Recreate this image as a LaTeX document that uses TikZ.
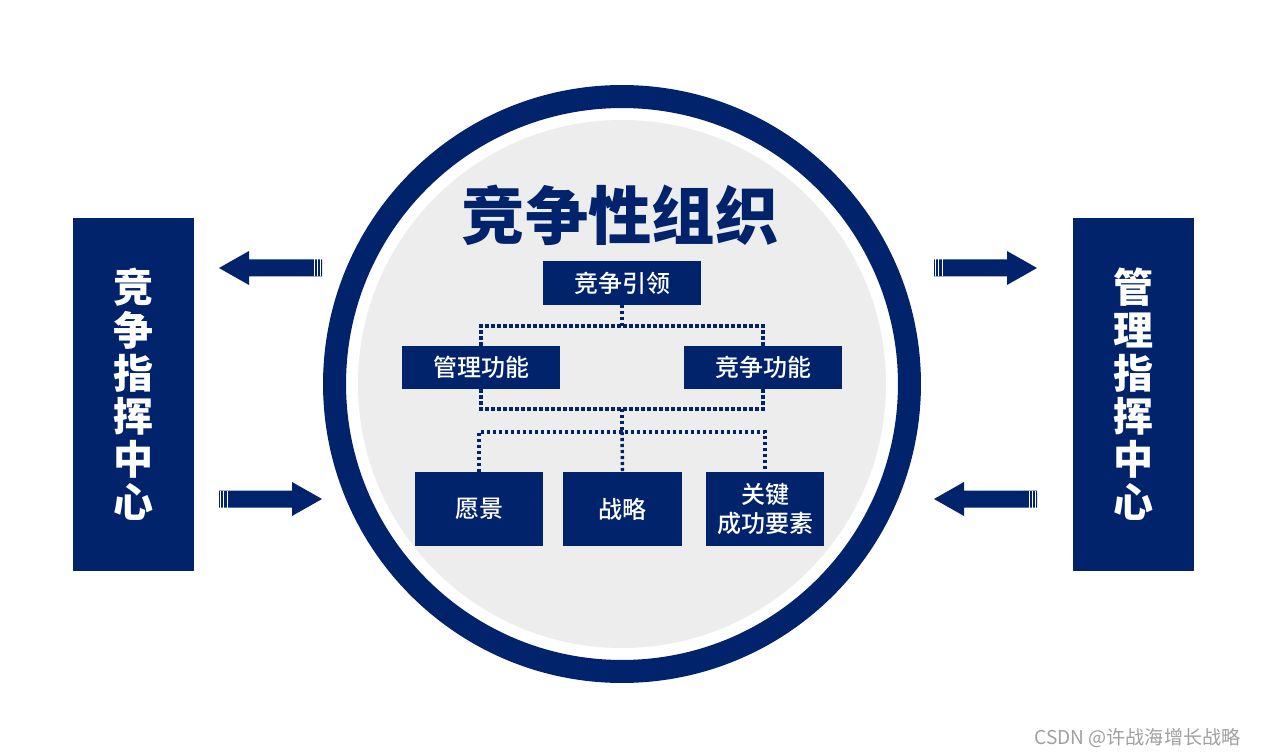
\documentclass[tikz,border=0pt]{standalone}
\usepackage{fontspec}
\usepackage{tikz}
\usetikzlibrary{positioning,calc}
\newfontfamily\cjk{Noto Sans CJK SC}
\newfontfamily\cjkmed{Noto Sans CJK SC Medium}
\definecolor{navy}{RGB}{0,35,107}
\definecolor{diskgray}{RGB}{237,237,237}
\definecolor{markgray}{RGB}{160,160,160}

\begin{document}
\begin{tikzpicture}[x=0.75pt,y=-0.75pt,
    orgbox/.style={fill=navy,text=white,inner sep=0pt,align=center,
      font=\cjkmed\fontsize{18}{21.75}\selectfont},
    sidebox/.style={fill=navy,text=white,inner sep=0pt,align=center,
      minimum width=90.75pt,minimum height=264.75pt,
      font=\cjk\bfseries\fontsize{30}{32.25}\selectfont},
    linkdot/.style={navy,line width=2.6pt,dash pattern=on 2.4pt off 2.1pt}]
  \useasboundingbox[fill=white] (0,0) rectangle (1261,756);
  % circle
  \fill[diskgray] (622,384) circle (198pt);
  \draw[navy,line width=17.25pt] (622,384) circle (215.6pt);
  \node[text=navy,font=\cjk\bfseries\fontsize{47.5}{50}\selectfont] (title) at (620,215) {竞争性组织};
  % side blocks
  \node[sidebox] (cmd) at (133.5,394.5) {竞\\争\\指\\挥\\中\\心};
  \node[sidebox] (mgc) at (1133.5,394.5) {管\\理\\指\\挥\\中\\心};
  % block arrows: tail x / y / direction
  \foreach \x/\y/\d in {322/268/-1,219/499/1,934/268/1,1037/499/-1}{
    \fill[navy] (\x,\y-8.5) -- (\x+\d*73,\y-8.5) -- (\x+\d*73,\y-17) -- (\x+\d*103,\y)
      -- (\x+\d*73,\y+17) -- (\x+\d*73,\y+8.5) -- (\x,\y+8.5) -- cycle;
    \foreach \s in {1.5,4.5,8}
      \draw[white,line width=0.7pt] (\x+\d*\s,\y-8.5) -- (\x+\d*\s,\y+8.5);
  }
  % org chart
  \node[orgbox,minimum width=118.5pt,minimum height=33pt] (lead) at (622,283) {竞争引领};
  \node[orgbox,minimum width=118pt,minimum height=32.5pt] (mgmt) at (481,367.5) {管理功能};
  \node[orgbox,minimum width=118pt,minimum height=32.5pt] (comp) at (763,367.5) {竞争功能};
  \node[orgbox,minimum width=96pt,minimum height=55.5pt] (vision) at (479,509) {愿景};
  \node[orgbox,minimum width=89pt,minimum height=55.5pt] (strat) at (622.5,509) {战略};
  \node[orgbox,minimum width=88.5pt,minimum height=55.5pt] (ksf) at (765,509) {关键\\成功要素};
  \coordinate (j1) at (622,326);
  \coordinate (j2) at (622,409);
  \coordinate (j3) at (622,432);
  \draw[linkdot] (lead.south) -- (j1);
  \draw[linkdot] (mgmt.north) |- (j1) -| (comp.north);
  \draw[linkdot] (mgmt.south) |- (j2) -| (comp.south);
  \draw[linkdot] (j2) -- (j3);
  \draw[linkdot] (vision.north) |- (j3) -| (ksf.north);
  \draw[linkdot] (j3) -- (strat.north);
  \node[anchor=east,text=markgray,font=\cjk\fontsize{14.3}{16}\selectfont] (mark) at (1245,738) {CSDN @许战海增长战略};
\end{tikzpicture}
\end{document}
